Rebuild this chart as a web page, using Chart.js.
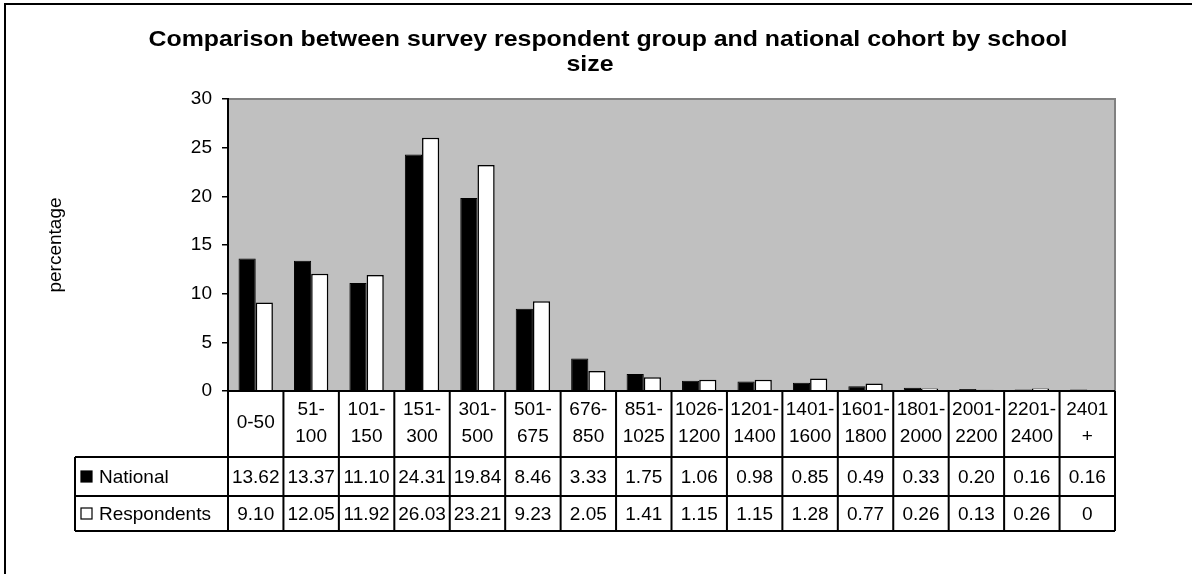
<!DOCTYPE html>
<html>
<head>
<meta charset="utf-8">
<script src="https://cdn.jsdelivr.net/npm/chart.js@4.4.1/dist/chart.umd.min.js"></script>
<style>
  html, body { margin: 0; padding: 0; background: #fff; }
</style>
</head>
<body>
<canvas id="myChart" width="1192" height="574"></canvas>
<script>
// school size bands, each split over the two text lines used in the table
const categories = [
  ['0-50'], ['51-', '100'], ['101-', '150'], ['151-', '300'], ['301-', '500'],
  ['501-', '675'], ['676-', '850'], ['851-', '1025'], ['1026-', '1200'],
  ['1201-', '1400'], ['1401-', '1600'], ['1601-', '1800'], ['1801-', '2000'],
  ['2001-', '2200'], ['2201-', '2400'], ['2401', '+']
];
const national = [13.62, 13.37, 11.10, 24.31, 19.84, 8.46, 3.33, 1.75, 1.06, 0.98, 0.85, 0.49, 0.33, 0.20, 0.16, 0.16];
const respondents = [9.10, 12.05, 11.92, 26.03, 23.21, 9.23, 2.05, 1.41, 1.15, 1.15, 1.28, 0.77, 0.26, 0.13, 0.26, 0];
const seriesNames = ['National', 'Respondents'];
const titleLines = ['Comparison between survey respondent group and national cohort by school', 'size'];
const yMax = 30;
const yStep = 5;

const FONT = '"Liberation Sans", Arial, Helvetica, sans-serif';
Chart.defaults.font.family = FONT;
Chart.defaults.color = '#000';

function fmt(v) {
  return v === 0 ? '0' : v.toFixed(2);
}

// grey plot background, outer frame and the title
const frame = {
  id: 'frame',
  beforeDraw(chart) {
    const { ctx, chartArea: a } = chart;
    ctx.save();
    ctx.fillStyle = '#fff';
    ctx.fillRect(0, 0, chart.width, chart.height);
    ctx.fillStyle = '#c0c0c0';
    ctx.fillRect(a.left, a.top, a.right - a.left, a.bottom - a.top);
    ctx.strokeStyle = '#808080';
    ctx.lineWidth = 2;
    ctx.beginPath();
    ctx.moveTo(a.left, a.top);
    ctx.lineTo(a.right, a.top);
    ctx.lineTo(a.right, a.bottom);
    ctx.stroke();

    ctx.strokeStyle = '#000';
    ctx.lineWidth = 2;
    ctx.beginPath();
    ctx.moveTo(5, chart.height);
    ctx.lineTo(5, 4);
    ctx.lineTo(chart.width, 4);
    ctx.stroke();

    // title is a touch wider than the plain bold face, so stretch it sideways
    ctx.fillStyle = '#000';
    ctx.font = 'bold 22px ' + FONT;
    ctx.textAlign = 'center';
    ctx.textBaseline = 'alphabetic';
    const sx = 919 / ctx.measureText(titleLines[0]).width;
    ctx.translate(608, 0);
    ctx.scale(sx, 1);
    ctx.fillText(titleLines[0], 0, 46);
    ctx.fillText(titleLines[1], -18 / sx, 71);
    ctx.restore();
  }
};

// data table under the plot: category row, then one row per series
const dataTable = {
  id: 'dataTable',
  afterDraw(chart) {
    const { ctx, chartArea: a, scales: { x } } = chart;
    const n = categories.length;
    const w = (a.right - a.left) / n;
    const rows = [a.bottom, 457, 496, 531];
    const labelLeft = 75;
    const series = [national, respondents];

    ctx.save();
    ctx.strokeStyle = '#000';
    ctx.lineWidth = 2;
    ctx.beginPath();
    // horizontal rules
    ctx.moveTo(a.left, rows[0]); ctx.lineTo(a.right, rows[0]);
    for (let r = 1; r < rows.length; r++) {
      ctx.moveTo(labelLeft, rows[r]); ctx.lineTo(a.right, rows[r]);
    }
    // vertical rules
    ctx.moveTo(labelLeft, rows[1]); ctx.lineTo(labelLeft, rows[3]);
    ctx.moveTo(a.left, rows[0]); ctx.lineTo(a.left, rows[3]);
    for (let i = 1; i <= n; i++) {
      const xx = a.left + i * w;
      ctx.moveTo(xx, rows[0]); ctx.lineTo(xx, rows[3]);
    }
    ctx.stroke();

    ctx.fillStyle = '#000';
    ctx.font = '19px ' + FONT;
    ctx.textAlign = 'center';
    ctx.textBaseline = 'middle';
    categories.forEach((lines, i) => {
      const cx = x.getPixelForValue(i);
      if (lines.length === 1) {
        ctx.fillText(lines[0], cx, 423);
      } else {
        ctx.fillText(lines[0], cx, 410);
        ctx.fillText(lines[1], cx, 437);
      }
      series.forEach((vals, s) => {
        ctx.fillText(fmt(vals[i]), cx, (rows[s + 1] + rows[s + 2]) / 2 + 1);
      });
    });

    // legend keys and series names
    ctx.textAlign = 'left';
    seriesNames.forEach((name, s) => {
      const cy = (rows[s + 1] + rows[s + 2]) / 2;
      const ds = chart.data.datasets[s];
      ctx.fillStyle = ds.backgroundColor;
      ctx.fillRect(81, cy - 5.5, 11, 11);
      ctx.lineWidth = 1.2;
      ctx.strokeStyle = '#000';
      ctx.strokeRect(81, cy - 5.5, 11, 11);
      ctx.fillStyle = '#000';
      ctx.fillText(name, 99, cy + 1);
    });
    ctx.restore();
  }
};

new Chart(document.getElementById('myChart'), {
  type: 'bar',
  data: {
    labels: categories.map(c => c.join('')),
    datasets: [
      {
        label: seriesNames[0],
        data: national,
        backgroundColor: '#000',
        borderColor: '#000',
        borderWidth: 1
      },
      {
        label: seriesNames[1],
        data: respondents,
        backgroundColor: '#fff',
        borderColor: '#000',
        borderWidth: 1.5
      }
    ]
  },
  options: {
    responsive: false,
    animation: false,
    devicePixelRatio: 1,
    layout: { padding: { left: 40, top: 99, right: 77, bottom: 183 } },
    datasets: { bar: { categoryPercentage: 0.62, barPercentage: 1 } },
    plugins: {
      legend: { display: false },
      tooltip: { enabled: false },
      title: { display: false }
    },
    scales: {
      x: { display: false },
      y: {
        min: 0,
        max: yMax,
        afterFit(scale) { scale.width = 188; },
        ticks: { stepSize: yStep, padding: 10, font: { size: 19 }, color: '#000' },
        grid: { drawOnChartArea: false, drawTicks: true, tickLength: 6, color: '#000', lineWidth: 1.5 },
        border: { display: true, color: '#000', width: 2 },
        title: { display: true, text: 'percentage', font: { size: 19 }, color: '#000' }
      }
    }
  },
  plugins: [frame, dataTable]
});
</script>
</body>
</html>
